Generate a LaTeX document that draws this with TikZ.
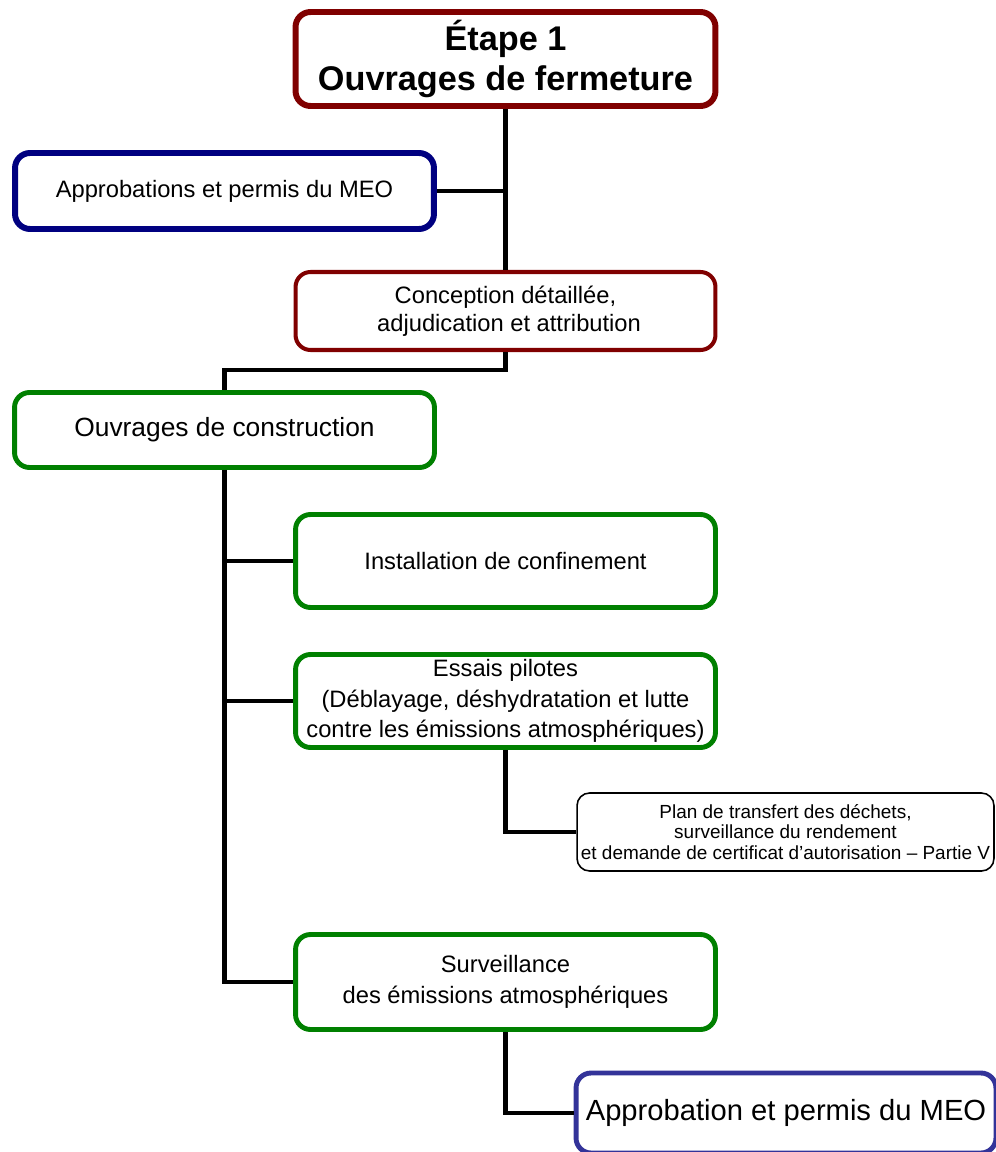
\documentclass[tikz,border=0pt]{standalone}
\usepackage{fontspec}
\setmainfont{Liberation Sans}
\usepackage{xcolor}
\definecolor{stred}{RGB}{128,0,0}
\definecolor{stnavy}{RGB}{0,0,128}
\definecolor{stgreen}{RGB}{0,128,0}
\definecolor{stblue}{RGB}{51,51,153}
\usepackage{tikz}
\usetikzlibrary{positioning}

\begin{document}
\begin{tikzpicture}[
    % GLOBAL CFG
    x=0.02cm, y=-0.02cm,
    % Styles
    stepbox/.style={% For all the boxes
        rectangle,
        rounded corners=3mm,
        draw,
        fill=white,
        align=center,
        inner sep=2pt,
        },
    redbox/.style={% For the steps of the owner
        stepbox,
        draw=stred,
        minimum width=8.4cm,
        },
    navybox/.style={% For the approvals
        stepbox,
        draw=stnavy,
        line width=3.4pt,
        minimum width=8.38cm,
        minimum height=1.52cm,
        font=\fontsize{13.5}{16}\selectfont,
        },
    greenbox/.style={% For the works
        stepbox,
        draw=stgreen,
        line width=2.8pt,
        minimum width=8.4cm,
        minimum height=1.86cm,
        font=\fontsize{13.5}{17.5}\selectfont,
        },
    link/.style={% For the connectors
        line width=2.8pt,
        },
    ]

%Start drawing the thing...
    \useasboundingbox (0,0) rectangle (995,1152);

    % Draw the main steps
    \node [redbox, line width=3.4pt, minimum height=1.88cm,
        font=\fontsize{19.5}{22.5}\selectfont\bfseries] (etape) at (505.5,59)
        {Étape 1\\Ouvrages de fermeture};
    \node [navybox] (meo) at (224.5,191) {Approbations et permis du MEO};
    \node [redbox, line width=2.3pt, minimum height=1.56cm,
        font=\fontsize{13.5}{16}\selectfont] (conception) at (505.5,311)
        {Conception détaillée,\\\hspace*{0.3em}adjudication et attribution};

    % Draw the works
    \node [greenbox, minimum height=1.5cm, font=\fontsize{15}{18}\selectfont]
        (construction) at (224.5,430) {Ouvrages de construction};
    \node [greenbox] (installation) at (505.5,561) {Installation de confinement};
    \node [greenbox] (essais) at (505.5,701)
        {Essais pilotes\\(Déblayage, déshydratation et lutte\\contre les émissions atmosphériques)};
    \node [greenbox, minimum height=1.9cm] (surveillance) at (505.5,982)
        {Surveillance\\des émissions atmosphériques};

    % Draw the last ones
    \node [stepbox, rounded corners=2.5mm, line width=0.9pt, minimum width=8.34cm,
        minimum height=1.56cm, font=\fontsize{10.8}{11.6}\selectfont] (plan) at (785.5,832)
        {Plan de transfert des déchets,\\surveillance du rendement\\et demande de certificat d’autorisation – Partie V};
    \node [navybox, draw=stblue, line width=2.8pt, minimum width=8.4cm, minimum height=1.6cm,
        font=\fontsize{16.6}{19}\selectfont] (approbation) at (786,1113)
        {Approbation et permis du MEO};

% Start connecting all.
    \draw [link] (etape.south) -- (conception.north);
    \draw [link] (meo.east) -- (meo.east -| etape.south);
    \draw [link] (conception.south) -- ++(0,18) -| (construction.north);

    % Trunk and branches
    \draw [link] (construction.south) |- (surveillance.west);
    \draw [link] (installation.west) -- (installation.west -| construction.south);
    \draw [link] (essais.west) -- (essais.west -| construction.south);

    %Outputs
    \draw [link] (essais.south) |- (plan.west);
    \draw [link] (surveillance.south) |- (approbation.west);

\end{tikzpicture}
\end{document}
